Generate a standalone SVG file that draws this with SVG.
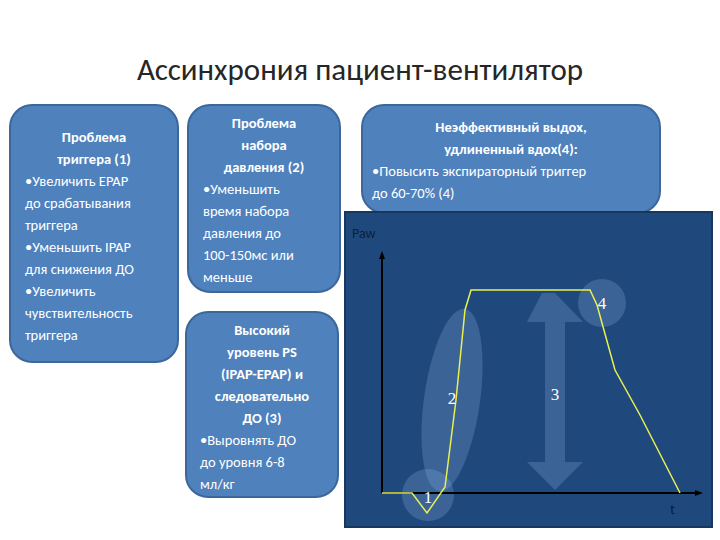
<svg xmlns="http://www.w3.org/2000/svg" width="720" height="540" viewBox="0 0 720 540">
<style>
.box{fill:#4f81bd;stroke:#3b679a;stroke-width:2}
.t{font-family:Calibri,"Carlito","Liberation Sans",sans-serif;font-size:14.5px;fill:#fff}
.b{font-weight:bold}
.lbl{font-family:"Liberation Serif",serif;font-size:17px;fill:#fff;text-anchor:middle}
.hl{fill:#8eb4e3;fill-opacity:0.25}
</style>
<rect width="720" height="540" fill="#fff"/>
<text x="360" y="80" text-anchor="middle" font-family="Calibri,Carlito,'Liberation Sans',sans-serif" font-size="31" fill="#262626">Ассинхрония пациент-вентилятор</text>
<g id="box1"><rect class="box" x="10" y="105" width="168" height="257" rx="22"/>
<text class="t" text-anchor="middle"><tspan class="b" x="94" y="142">Проблема</tspan><tspan class="b" x="94" y="164">триггера (1)</tspan></text>
<text class="t"><tspan x="25" y="186">•Увеличить EPAP</tspan><tspan x="25" y="208">до срабатывания</tspan><tspan x="25" y="230">триггера</tspan><tspan x="25" y="252">•Уменьшить IPAP</tspan><tspan x="25" y="274">для снижения ДО</tspan><tspan x="25" y="296">•Увеличить</tspan><tspan x="25" y="318">чувствительность</tspan><tspan x="25" y="340">триггера</tspan></text></g>
<g id="box2"><rect class="box" x="188" y="105" width="152" height="187" rx="22"/>
<text class="t" text-anchor="middle"><tspan class="b" x="264" y="128">Проблема</tspan><tspan class="b" x="264" y="150">набора</tspan><tspan class="b" x="264" y="172">давления (2)</tspan></text>
<text class="t"><tspan x="203" y="194">•Уменьшить</tspan><tspan x="203" y="216">время набора</tspan><tspan x="203" y="238">давления до</tspan><tspan x="203" y="260">100-150мс или</tspan><tspan x="203" y="282">меньше</tspan></text></g>
<g id="box3"><rect class="box" x="186" y="312" width="152" height="185" rx="22"/>
<text class="t" text-anchor="middle"><tspan class="b" x="262" y="335">Высокий</tspan><tspan class="b" x="262" y="357">уровень PS</tspan><tspan class="b" x="262" y="379">(IPAP-EPAP) и</tspan><tspan class="b" x="262" y="401">следовательно</tspan><tspan class="b" x="262" y="423">ДО (3)</tspan></text>
<text class="t"><tspan x="200" y="445">•Выровнять ДО</tspan><tspan x="200" y="467">до уровня 6-8</tspan><tspan x="200" y="489">мл/кг</tspan></text></g>
<g id="box4"><rect class="box" x="362" y="105" width="298" height="108" rx="22"/>
<text class="t" text-anchor="middle"><tspan class="b" x="511" y="132">Неэффективный выдох,</tspan><tspan class="b" x="511" y="154">удлиненный вдох(4):</tspan></text>
<text class="t"><tspan x="372" y="176">•Повысить экспираторный триггер</tspan><tspan x="372" y="198">до 60-70% (4)</tspan></text></g>
<g id="chart">
<rect x="345" y="212" width="367" height="315" fill="#1f497d" stroke="#17375e" stroke-width="2"/>
<text x="352" y="238" font-family="Calibri,Carlito,'Liberation Sans',sans-serif" font-size="14" fill="#0d1f3a">Paw</text>
<ellipse class="hl" cx="452" cy="400" rx="28" ry="92" transform="rotate(8 452 400)"/>
<circle class="hl" cx="428" cy="495" r="26"/>
<circle class="hl" cx="602" cy="303" r="24"/>
<path class="hl" d="M542 293 L527 322 L545 322 L545 462 L527 462 L555 490 L583 462 L565 462 L565 322 L583 322 L555 293 Z" transform="translate(0,0)"/>
</g>
<g id="connectors">
<line x1="382" y1="493" x2="382" y2="253" stroke="#000" stroke-width="2"/>
<polygon points="382,251 379,259 385,259" fill="#000"/>
<line x1="382" y1="493" x2="700" y2="493" stroke="#000" stroke-width="2"/>
<polygon points="703,493 695,490 695,496" fill="#000"/>
<path d="M382 493 L412 493 L427 513 L445 487 L456 400 L465 310 L471 290 L590 290 L597 305 L615 370 L640 415 L680 493" fill="none" stroke="#e8f050" stroke-width="1.5"/>
</g>
<text class="lbl" x="452" y="404">2</text>
<text class="lbl" x="555" y="400">3</text>
<text class="lbl" x="602" y="309">4</text>
<text class="lbl" x="428" y="503">1</text>
<text x="670" y="514" font-family="Calibri,Carlito,'Liberation Sans',sans-serif" font-size="15" fill="#0d1f3a">t</text>
</svg>
